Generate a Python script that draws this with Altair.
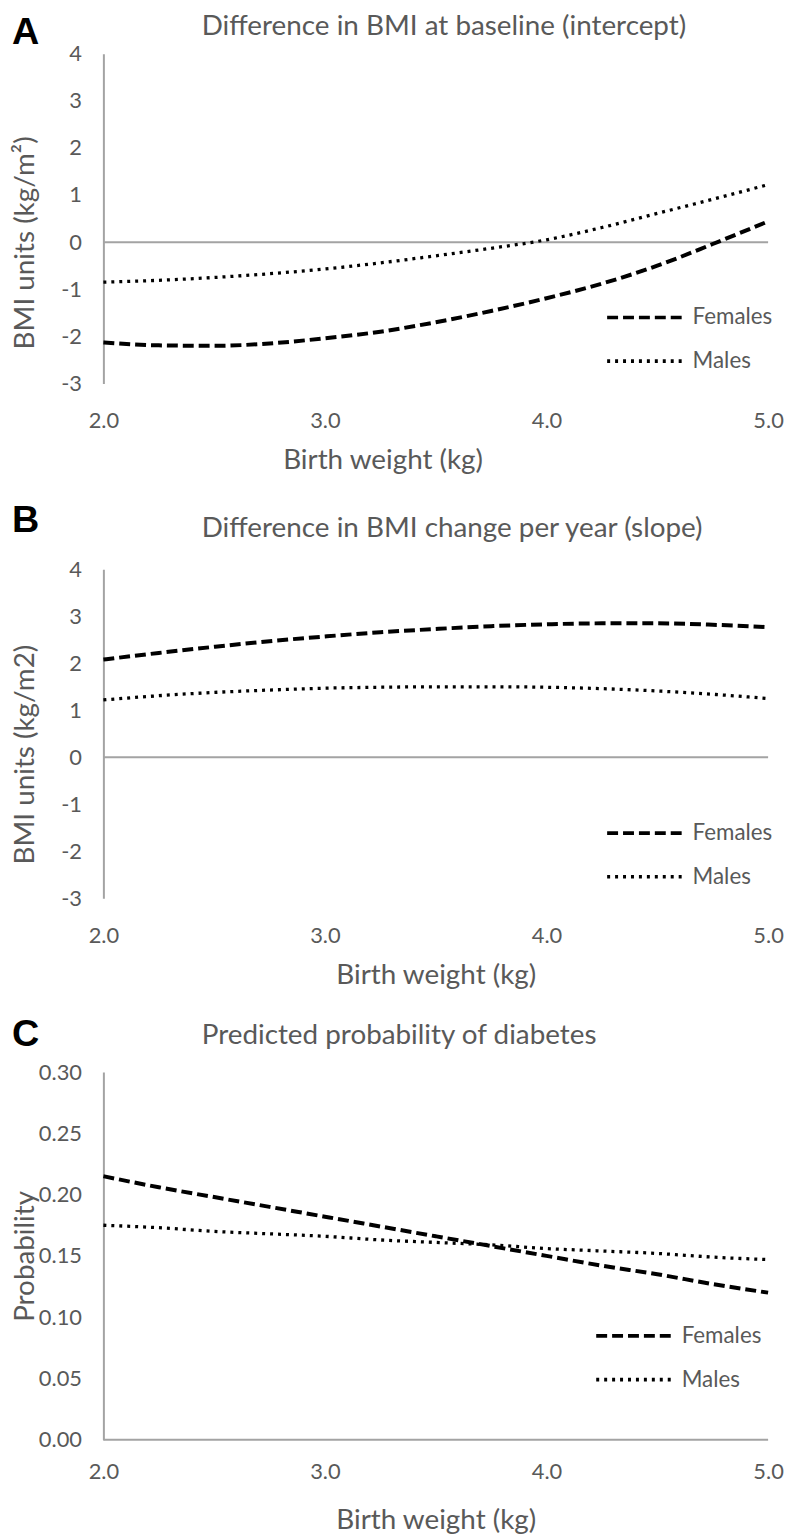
import altair as alt
import pandas as pd

# ---- data ----
bw = [2.0, 2.25, 2.5, 2.75, 3.0, 3.25, 3.5, 3.75, 4.0, 4.25, 4.5, 4.75, 5.0]
sexes = ["Females", "Males"]

a_females = [-2.13, -2.19, -2.20, -2.15, -2.04, -1.90, -1.70, -1.46, -1.19, -0.88, -0.50, -0.04, 0.44]
a_males = [-0.85, -0.81, -0.75, -0.67, -0.57, -0.44, -0.29, -0.13, 0.05, 0.31, 0.61, 0.91, 1.22]

b_females = [2.08, 2.22, 2.35, 2.47, 2.57, 2.66, 2.73, 2.79, 2.83, 2.85, 2.85, 2.82, 2.77]
b_males = [1.22, 1.31, 1.38, 1.43, 1.47, 1.49, 1.50, 1.50, 1.49, 1.46, 1.41, 1.34, 1.25]

c_females = [0.215, 0.206, 0.198, 0.190, 0.182, 0.174, 0.166, 0.158, 0.150, 0.142, 0.135, 0.127, 0.120]
c_males = [0.175, 0.173, 0.170, 0.168, 0.166, 0.163, 0.161, 0.159, 0.156, 0.154, 0.152, 0.149, 0.147]

x_ticks = [2, 3, 4, 5]
bmi_ticks = [-3, -2, -1, 0, 1, 2, 3, 4]
prob_ticks = [0.0, 0.05, 0.10, 0.15, 0.20, 0.25, 0.30]

letters = ["A", "B", "C"]
titles = [
    "Difference in BMI at baseline (intercept)",
    "Difference in BMI change per year (slope)",
    "Predicted probability of diabetes",
]
y_titles = ["BMI units (kg/m\u00b2)", "BMI units (kg/m2)", "Probability"]
x_title = "Birth weight (kg)"

GRAY = "#a3a3a3"
TEXT = "#595959"
FONT = "Lato"
W = 669


def panel(fem, mal, letter, title, ytitle, ydomain, yticks, ylabel_kw, height,
          title_y, legend_x, xlabpad, xtitlepad, letter_dy, title_offset,
          xtitle_kw):
    df = pd.DataFrame({
        "bw": bw + bw,
        "value": fem + mal,
        "sex": ["Females"] * len(bw) + ["Males"] * len(bw),
    })
    xscale = alt.Scale(domain=[2, 5], nice=False, zero=False)
    xaxis = alt.Axis(values=x_ticks, format=".1f", title=x_title, domain=False,
                     ticks=False, grid=False, labelPadding=xlabpad,
                     labelFlush=False, titlePadding=xtitlepad, **xtitle_kw)
    yscale = alt.Scale(domain=ydomain, nice=False, zero=False)
    yaxis = alt.Axis(values=yticks, title=ytitle, grid=False, ticks=False,
                     labelPadding=22, labelFlush=False, titleX=-78,
                     titleY=title_y, titleBaseline="middle", titleAngle=270,
                     titleAlign="center", **ylabel_kw)
    dash = alt.StrokeDash(
        "sex:N",
        scale=alt.Scale(domain=sexes, range=[[11, 5], [3, 5]]),
        legend=alt.Legend(
            orient="none", legendX=legend_x, legendY=251, title=None,
            symbolType="M-3,0H3", symbolSize=625, symbolStrokeWidth=3.6,
            symbolStrokeColor="black", labelOffset=34, rowPadding=18,
            labelFontSize=22.5, labelFont=FONT, labelColor=TEXT, padding=0,
        ),
    )
    rule = alt.Chart(pd.DataFrame({"zero": [0]})).mark_rule(
        color=GRAY, strokeWidth=2
    ).encode(y=alt.Y("zero:Q", scale=yscale, axis=yaxis))
    base = alt.Chart(df)
    fl = base.transform_filter(alt.datum.sex == "Females").mark_line(
        color="black", strokeWidth=4, interpolate="monotone"
    ).encode(x=alt.X("bw:Q", scale=xscale, axis=xaxis),
             y=alt.Y("value:Q", scale=yscale, axis=yaxis), strokeDash=dash)
    ml = base.transform_filter(alt.datum.sex == "Males").mark_line(
        color="black", strokeWidth=3.3, interpolate="monotone"
    ).encode(x=alt.X("bw:Q", scale=xscale, axis=xaxis),
             y=alt.Y("value:Q", scale=yscale, axis=yaxis), strokeDash=dash)
    inner = alt.layer(rule, fl, ml).properties(
        width=W, height=height,
        title=alt.TitleParams(title, anchor="start", frame="group", dx=99,
                              offset=title_offset, fontSize=28, font=FONT,
                              color=TEXT, fontWeight="normal"),
    )
    return alt.vconcat(inner).properties(
        title=alt.TitleParams(letter, anchor="start", offset=0, fontSize=38,
                              font="Liberation Sans", fontWeight="bold",
                              color="black", dy=letter_dy)
    ).resolve_scale(strokeDash="independent").resolve_legend(
        strokeDash="independent")


bmi_labels = {"labelExpr": "datum.value"}
prob_labels = {"format": ".2f"}

pa = panel(a_females, a_males, letters[0], titles[0], y_titles[0], [-3, 4],
           bmi_ticks, bmi_labels, 332, 190, 530, 27.5, 15.5, 39, 2,
           {"titleX": 281})
pb = panel(b_females, b_males, letters[1], titles[1], y_titles[1], [-3, 4],
           bmi_ticks, bmi_labels, 331, 186, 530, 27.5, 15.5, 25, 16, {})
pc = panel(c_females, c_males, letters[2], titles[2], y_titles[2], [0, 0.30],
           prob_ticks, prob_labels, 370, 185, 519, 22.5, 23.5, 32, 11, {})

chart = alt.vconcat(pa, pb, pc, spacing=27).resolve_scale(
    strokeDash="independent"
).resolve_legend(strokeDash="independent").properties(
    padding={"left": 4, "top": 0, "right": 0, "bottom": 0}
).configure_view(stroke=None).configure_axis(
    domainColor=GRAY, domainWidth=2, labelColor=TEXT, labelFont=FONT,
    labelFontSize=22, titleColor=TEXT, titleFont=FONT, titleFontSize=28,
    titleFontWeight="normal",
)

chart.save("out.html", embed_options={"renderer": "svg", "actions": False})
